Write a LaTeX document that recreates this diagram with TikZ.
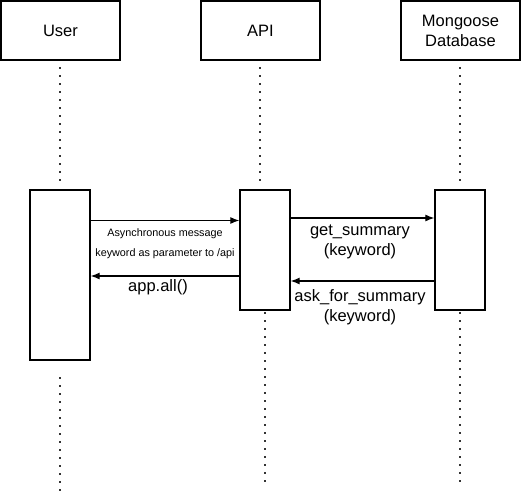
\documentclass[tikz,border=0pt]{standalone}
\usepackage{fontspec}
\setmainfont{Liberation Sans}
\usetikzlibrary{arrows.meta}
\begin{document}
\begin{tikzpicture}[x=1pt,y=-1pt,
  head/.style={draw,line width=1.3pt,minimum width=119pt,minimum height=59pt,inner sep=0pt,align=center,font=\fontsize{16.5}{20}\selectfont},
  act/.style={draw,line width=1.3pt,inner sep=0pt},
  life/.style={line width=1.6pt,dash pattern=on 1.6pt off 6.4pt,black!80},
  msg/.style={line width=1.2pt,-{Latex[length=9pt,width=7pt]}},
  big/.style={font=\fontsize{16.5}{20}\selectfont,align=center,inner sep=0pt},
  small/.style={font=\fontsize{10.8}{20}\selectfont,align=center,inner sep=0pt}]
\useasboundingbox (0,0) rectangle (521,493);
\fill[white] (0,0) rectangle (521,493);
% headers
\node[head] (user) at (60.5,30.5) {User};
\node[head] (api) at (260.5,30.5) {API};
\node[head] (db) at (460.5,30.5) {Mongoose\\Database};
% activations
\node[act,minimum width=60pt,minimum height=170pt] (uact) at (60,275) {};
\node[act,minimum width=50pt,minimum height=120pt] (aact) at (265,250) {};
\node[act,minimum width=50pt,minimum height=120pt] (mact) at (460,250) {};
% lifelines
\coordinate (u1) at (60,67); \coordinate (u2) at (60,182);
\coordinate (a1) at (260,67); \coordinate (a2) at (260,182);
\coordinate (m1) at (460,67); \coordinate (m2) at (460,182);
\coordinate (u3) at (60,377); \coordinate (u4) at (60,492);
\coordinate (a3) at (265,312); \coordinate (a4) at (265,482);
\coordinate (m3) at (460,312); \coordinate (m4) at (460,482);
\draw[life] (u1) -- (u2);
\draw[life] (a1) -- (a2);
\draw[life] (m1) -- (m2);
\draw[life] (u3) -- (u4);
\draw[life] (a3) -- (a4);
\draw[life] (m3) -- (m4);
% messages
\draw[msg] (uact.east |- 0,220.5) -- (aact.west |- 0,220.5);
\draw[msg] (aact.west |- 0,276) -- (uact.east |- 0,276);
\draw[msg] (aact.east |- 0,218) -- (mact.west |- 0,218);
\draw[msg] (mact.west |- 0,281) -- (aact.east |- 0,281);
% labels
\node[small] (l1) at (165,244) {Asynchronous message\\keyword as parameter to /api};
\node[big] (l2) at (158,287) {app.all()};
\node[big] (l3) at (360,242) {get\_summary\\(keyword)};
\node[big] (l4) at (360,307) {ask\_for\_summary\\(keyword)};
\end{tikzpicture}
\end{document}
